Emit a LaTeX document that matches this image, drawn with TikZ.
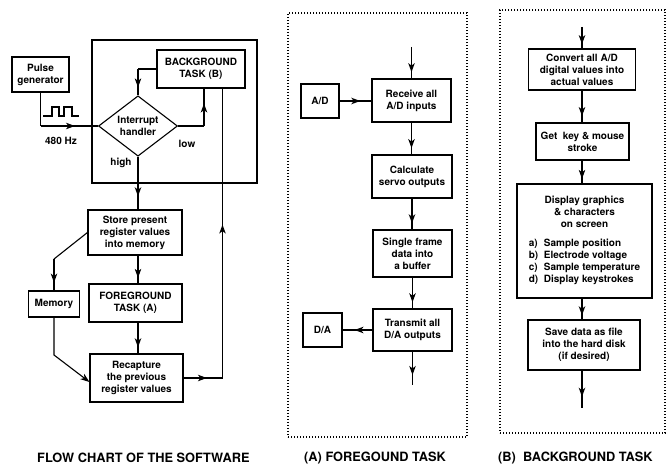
\documentclass[tikz,border=0pt]{standalone}
\usepackage{fontspec}
\setmainfont{TeX Gyre Heros}
\usetikzlibrary{shapes.geometric,decorations.markings,arrows.meta,calc}
\begin{document}
\begin{tikzpicture}[x=1pt,y=-1pt,
  every node/.style={font=\fontsize{10}{12}\selectfont\bfseries},
  box/.style={draw,line width=1.1pt,inner sep=1pt,align=center},
  ln/.style={line width=1.1pt},
  marr/.style={ln,postaction={decorate},decoration={markings,mark=at position #1 with {\arrow{Stealth[length=9pt,width=6.5pt,inset=2.5pt]}}}},
  marr/.default=0.6,
  dotbox/.style={draw,line width=1.3pt,dash pattern=on 1.3pt off 1.7pt},
  captext/.style={font=\fontsize{12.8}{14}\selectfont\bfseries,anchor=west,inner sep=0pt}]
\useasboundingbox (0,0) rectangle (672,465);
% ---------------- left flow chart ----------------
\node[draw,line width=1.1pt,minimum width=165pt,minimum height=143pt,inner sep=0pt] (frame) at (174.5,111.5) {};
\node[box,minimum width=57pt,minimum height=35pt] (pulse) at (40.5,74.5) {Pulse\\generator};
\node[draw,line width=1.1pt,diamond,minimum width=79pt,minimum height=57pt,inner sep=0pt,align=center] (dia) at (138,126) {Interrupt\\handler};
\node[box,minimum width=88pt,minimum height=38pt] (bgB) at (201,69) {BACKGROUND\\TASK (B)};
\node[box,minimum width=94pt,minimum height=45pt] (store) at (135,232.5) {Store present\\register values\\into memory};
\node[box,minimum width=51pt,minimum height=26pt] (memory) at (54,304) {Memory};
\node[box,minimum width=93pt,minimum height=38pt] (fgA) at (135.5,303) {FOREGROUND\\TASK (A)};
\node[box,minimum width=93pt,minimum height=48pt] (recap) at (136.5,378) {Recapture\\the previous\\register values};
\node[inner sep=0pt] (hz) at (61,141) {480 Hz};
\node[inner sep=0pt] (low) at (187,144) {low};
\node[inner sep=0pt] (high) at (121,163) {high};
% square wave
\draw[ln] (43,116) -- (52,116) -- (52,107) -- (59,107) -- (59,116) -- (64,116) -- (64,107) -- (72,107) -- (72,116) -- (79,116);
% connectors
\coordinate (c1) at (pulse.south |- dia.west);
\draw[ln] (pulse.south) -- (c1);
\draw[marr=0.6] (c1) -- (dia.west);
\coordinate (c0) at (dia.north |- bgB.west);
\draw[ln] (bgB.west) -- (c0);
\draw[marr=0.7] (c0) -- (dia.north);
\coordinate (c2) at (204,126);
\draw[ln] (dia.east) -- (c2);
\draw[marr=0.6] (c2) -- (c2 |- bgB.south);
\draw[marr=0.75] (dia.south) -- (dia.south |- store.north);
\draw[marr=0.8] (dia.south |- store.south) -- (dia.south |- fgA.north);
\draw[marr=0.8] (dia.south |- fgA.south) -- (dia.south |- recap.north);
\coordinate (m1) at (54,259);
\draw[ln] (store.west) -- (m1);
\draw[marr=0.75] (m1) -- (memory.north);
\coordinate (m2) at (54,355);
\draw[ln,-{Stealth[length=9pt,width=6.5pt,inset=2.5pt]}] (memory.south) -- (m2) -- ($(recap.west)+(0,4)$);
\coordinate (rx) at (222.5,378);
\draw[marr=0.6] (recap.east) -- (rx);
\draw[marr=0.53] (rx) -- (rx |- bgB.south);
% ---------------- (A) foreground task ----------------
\node[dotbox,minimum width=179pt,minimum height=424pt,inner sep=0pt] (boxA) at (377.5,225) {};
\node[box,minimum width=79pt,minimum height=43pt] (recv) at (411.5,100.5) {Receive all\\A/D inputs};
\node[box,minimum width=38pt,minimum height=34pt] (ad) at (320,101) {A/D};
\node[box,minimum width=80pt,minimum height=43pt] (calc) at (412,176.5) {Calculate\\servo outputs};
\node[box,minimum width=79pt,minimum height=47pt] (single) at (412.5,253.5) {Single frame\\data into\\a buffer};
\node[box,minimum width=79pt,minimum height=42pt] (trans) at (412.5,330) {Transmit all\\D/A outputs};
\node[box,minimum width=39pt,minimum height=34pt] (da) at (322.5,330) {D/A};
\coordinate (inA) at (411.5,47);
\coordinate (outA) at (412.5,385);
\draw[marr=0.8] (inA) -- (recv.north);
\draw[marr=0.65] (ad.east) -- (ad.east -| recv.west);
\draw[marr=0.8] (recv.south) -- (recv.south |- calc.north);
\draw[marr=0.8] (calc.south) -- (calc.south |- single.north);
\draw[marr=0.8] (single.south) -- (trans.north);
\draw[marr=0.6] (trans.west) -- (da.east);
\draw[marr=0.7] (trans.south) -- (outA);
\node[captext] (capA) at (304,458) {(A) FOREGOUND TASK};
% ---------------- (B) background task ----------------
\node[dotbox,minimum width=165pt,minimum height=423pt,inner sep=0pt] (boxB) at (582.5,221.5) {};
\node[box,minimum width=107pt,minimum height=41pt] (conv) at (582,69.5) {Convert all A/D\\digital values into\\actual values};
\node[box,minimum width=93pt,minimum height=37pt] (get) at (582.5,141.5) {Get\ \ key \& mouse\\stroke};
\node[box,minimum width=135pt,minimum height=114pt] (disp) at (584.5,241) {Display graphics\\\& characters\\on screen\\[9pt]
  \begin{tabular}{@{}l@{\ \ }l@{}}a) & Sample position\\ b) & Electrode voltage\\ c) & Sample temperature\\ d) & Display keystrokes\end{tabular}};
\node[box,minimum width=112pt,minimum height=50pt] (save) at (584,345) {Save data as file\\into the hard disk\\(if desired)};
\coordinate (inB) at (582,27);
\coordinate (outB) at (582,408);
\draw[marr=0.8] (inB) -- (conv.north);
\draw[marr=0.8] (conv.south) -- (conv.south |- get.north);
\draw[marr=0.8] (conv.south |- get.south) -- (conv.south |- disp.north);
\draw[marr=0.8] (conv.south |- disp.south) -- (conv.south |- save.north);
\draw[marr=0.7] (conv.south |- save.south) -- (outB);
\node[captext] (capB) at (498,458) {(B)\ \ BACKGROUND TASK};
\node[captext] (cap1) at (37,458) {FLOW CHART OF THE SOFTWARE};
\end{tikzpicture}
\end{document}
